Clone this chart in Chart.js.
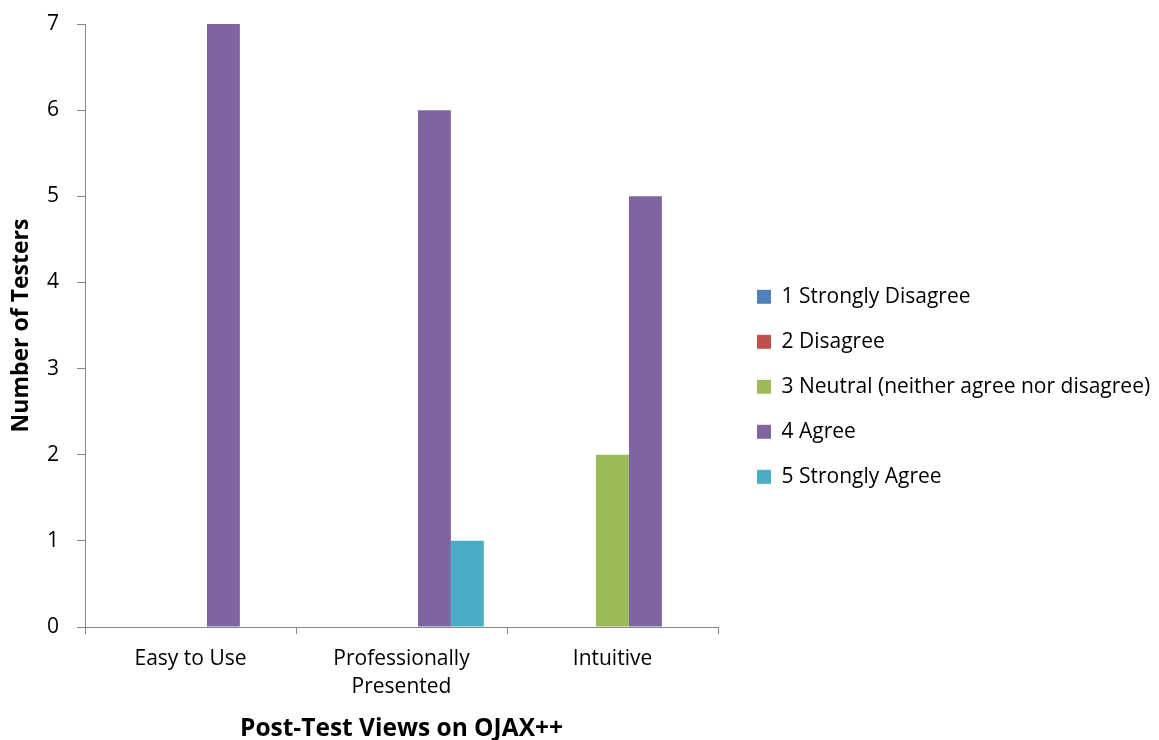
<!DOCTYPE html>
<html>
<head>
<meta charset="utf-8">
<script src="https://cdn.jsdelivr.net/npm/chart.js@4"></script>
<style>
  html, body { margin: 0; padding: 0; background: #ffffff; }
  #wrap { width: 1159px; height: 740px; }
</style>
</head>
<body>
<div id="wrap"><canvas id="c" width="1159" height="740"></canvas></div>
<script>
const categories = [['Easy to Use'], ['Professionally', 'Presented'], ['Intuitive']];
const seriesNames = ['1 Strongly Disagree', '2 Disagree', '3 Neutral (neither agree nor disagree)', '4 Agree', '5 Strongly Agree'];
const stronglyDisagree = [0, 0, 0];
const disagree = [0, 0, 0];
const neutral = [0, 0, 2];
const agree = [7, 6, 5];
const stronglyAgree = [0, 1, 0];
const yTicks = [0, 1, 2, 3, 4, 5, 6, 7];
const colors = ['#4F81BD', '#C0504D', '#9BBB59', '#8064A2', '#4BACC6'];
const seriesValues = [stronglyDisagree, disagree, neutral, agree, stronglyAgree];

const FONT = '"Open Sans", sans-serif';
const AXIS = '#868686';

new Chart(document.getElementById('c'), {
  type: 'bar',
  data: {
    labels: categories,
    datasets: seriesNames.map((n, i) => ({
      label: n,
      data: seriesValues[i],
      backgroundColor: colors[i],
      borderWidth: 0,
      categoryPercentage: 0.78,
      barPercentage: 1.0
    }))
  },
  options: {
    responsive: false,
    animation: false,
    layout: { padding: { left: 0, right: 0, top: 24, bottom: 0 } },
    plugins: {
      tooltip: { enabled: false },
      legend: {
        position: 'right',
        align: 'center',
        maxWidth: 426,
        title: { display: true, text: ' ', font: { size: 8 }, padding: 0 },
        labels: {
          boxWidth: 14,
          boxHeight: 14,
          padding: 24,
          color: '#000000',
          font: { family: FONT, size: 21 }
        }
      }
    },
    scales: {
      x: {
        offset: true,
        grid: { display: true, drawOnChartArea: false, drawTicks: true, tickLength: 7, color: AXIS, offset: true },
        border: { display: true, color: AXIS, width: 1 },
        ticks: { color: '#000000', font: { family: FONT, size: 21, lineHeight: 1.33 }, padding: 11, maxRotation: 0, autoSkip: false },
        title: { display: true, text: 'Post-Test Views on OJAX++', color: '#000000', font: { family: FONT, size: 24.5, weight: 'bold' }, padding: { top: 0, bottom: -4 } },
        afterFit: s => { s.height = 113; }
      },
      y: {
        min: 0,
        max: 7,
        afterBuildTicks: s => { s.ticks = yTicks.map(v => ({ value: v })); },
        grid: { display: true, drawOnChartArea: false, drawTicks: true, tickLength: 8, color: AXIS },
        border: { display: true, color: AXIS, width: 1 },
        ticks: { color: '#000000', font: { family: FONT, size: 21 }, padding: 18 },
        title: { display: true, text: 'Number of Testers', color: '#000000', font: { family: FONT, size: 23, weight: 'bold' }, padding: { top: 8, bottom: 0 } },
        afterFit: s => { s.width = 85; s.paddingTop = 0; s.paddingBottom = 0; }
      },
      spacer: {
        position: 'right',
        display: true,
        grid: { display: false },
        border: { display: false },
        ticks: { display: false },
        afterFit: s => { s.width = 15; s.paddingTop = 0; s.paddingBottom = 0; }
      }
    }
  }
});
</script>
</body>
</html>
